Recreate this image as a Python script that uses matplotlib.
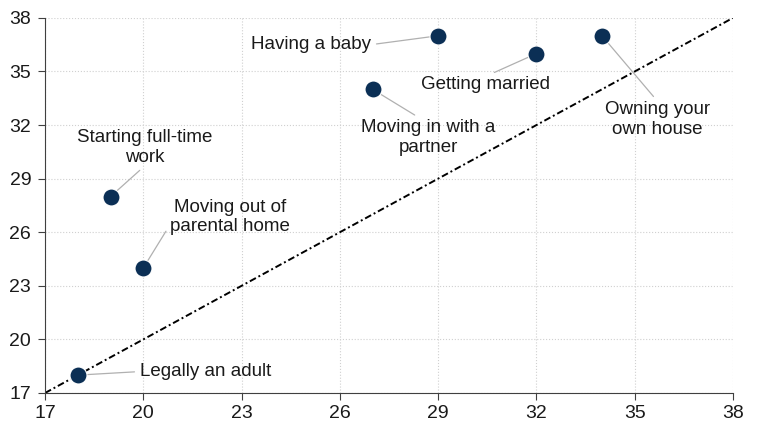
import matplotlib.pyplot as plt
import numpy as np

plt.rcParams['font.family'] = ['Liberation Sans', 'DejaVu Sans']

# ages: x = actual age, y = age considered "adult" milestone
events = ["Legally an adult", "Starting full-time\nwork", "Moving out of\nparental home",
          "Moving in with a\npartner", "Having a baby", "Getting married",
          "Owning your\nown house"]
age_x = [18, 19, 20, 27, 29, 32, 34]
age_y = [18, 28, 24, 34, 37, 36, 37]
ticks = [17, 20, 23, 26, 29, 32, 35, 38]

# label placement (data coords), alignment and where the leader line attaches
label_pos = [(19.9, 18.2), (20.05, 30.75), (22.65, 26.85), (28.7, 31.3),
             (26.95, 36.5), (30.45, 34.25), (35.7, 32.3)]
label_ha = ["left", "center", "center", "center", "right", "center", "center"]
label_rel = [(0, 0.5), (0.5, 0), (0.0, 0.3), (0.45, 1), (1, 0.5), (0.5, 1), (0.5, 1)]

fig = plt.figure(figsize=(7.58, 4.26), dpi=100)
ax = fig.add_axes([0.0594, 0.0775, 0.9076, 0.8805])

ax.plot([17, 38], [17, 38], color='black', lw=1.4, dashes=(3.5, 1.5, 1, 1.5), zorder=2)
ax.scatter(age_x, age_y, s=150, color='#0b2f55', edgecolor='white', lw=0.8, zorder=4)

for name, x, y, pos, ha, rel in zip(events, age_x, age_y, label_pos, label_ha, label_rel):
    ax.annotate(name, xy=(x, y), xytext=pos, ha=ha, va='center', fontsize=13.5,
                color='#1a1a1a',
                arrowprops=dict(arrowstyle='-', color='#b0b0b0', lw=0.9,
                                relpos=rel, shrinkA=2, shrinkB=1), zorder=3)

ax.set_xlim(17, 38)
ax.set_ylim(17, 38)
ax.set_xticks(ticks)
ax.set_yticks(ticks)
ax.tick_params(labelsize=14, length=5, color='#404040', labelcolor='#1a1a1a')
ax.tick_params(axis='y', pad=5)
ax.grid(True, ls=':', color='#d0d0d0', lw=0.8)
for s in ['top', 'right']:
    ax.spines[s].set_visible(False)
for s in ['left', 'bottom']:
    ax.spines[s].set_color('#404040')
ax.set_axisbelow(True)

fig.savefig('out.png', dpi=100)
